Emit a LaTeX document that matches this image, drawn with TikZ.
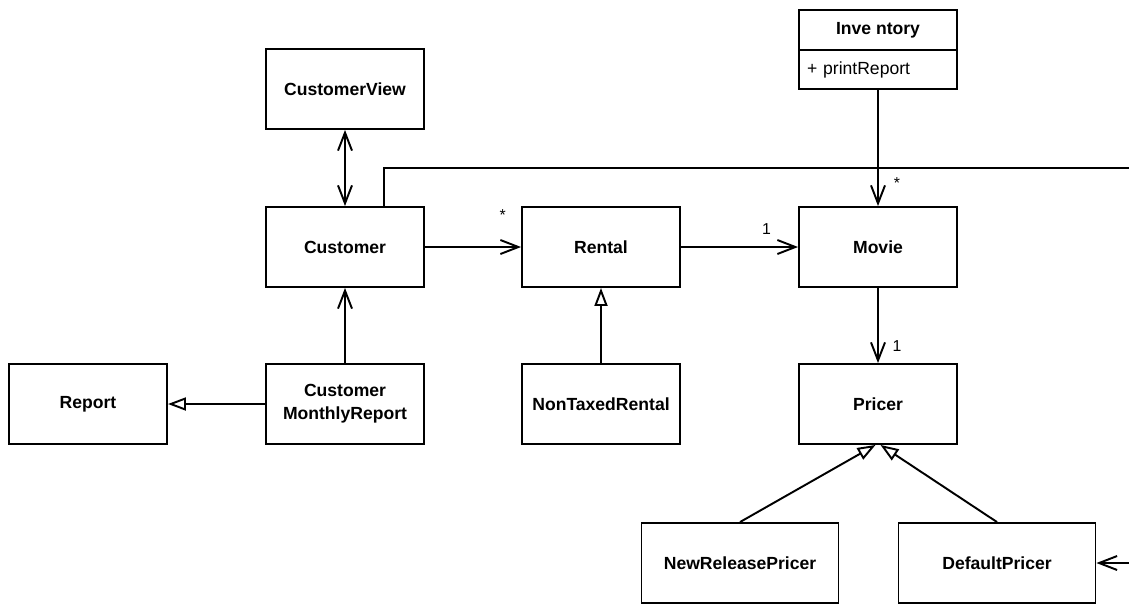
\documentclass[tikz,border=0pt]{standalone}
\usepackage{fontspec}
\setmainfont{Liberation Sans}
\usetikzlibrary{arrows.meta, positioning}

\begin{document}
\begin{tikzpicture}[x=0.02cm, y=-0.02cm, line width=1.1pt,
    main/.style = {draw, rectangle, minimum width=3.16cm, minimum height=1.6cm, align=center, font=\fontsize{10}{13}\selectfont\bfseries},
    wide/.style = {main, minimum width=3.94cm},
    head/.style = {main, minimum height=0.8cm},
    body/.style = {draw, rectangle, minimum height=0.78cm, inner xsep=0.16cm, text width=2.84cm, align=left, font=\fontsize{10}{12}\selectfont},
    assoc/.style = {-{Straight Barb[length=3.6mm,width=2.8mm]}},
    gen/.style = {-{Triangle[open,length=3.6mm,width=2.6mm]}},
    mult/.style = {font=\fontsize{9}{11}\selectfont}]
  \useasboundingbox (0,0) rectangle (1129,603);

  \node[main] (1)  at (345,89)  {CustomerView};
  \node[head] (2)  at (878,30)  {Inve ntory};
  \node[body] (2b) at (878,69.5) {+ printReport};
  \node[main] (3)  at (345,247) {Customer};
  \node[main] (4)  at (601,247) {Rental};
  \node[main] (5)  at (878,247) {Movie};
  \node[main] (6)  at (88,404)  {Report};
  \node[main] (7)  at (345,404) {Customer\\MonthlyReport};
  \node[main] (8)  at (601,404) {NonTaxedRental};
  \node[main] (9)  at (878,404) {Pricer};
  \node[wide] (10) at (740,563) {NewReleasePricer};
  \node[wide] (11) at (997,563) {DefaultPricer};

  \coordinate (r1) at (1129,168);
  \coordinate (r2) at (1129,563);

  \path[assoc]
  (3)  edge node[mult, pos=0.81, yshift=0.64cm] {*} (4)
  (4)  edge node[mult, pos=0.73, yshift=0.36cm] {1} (5)
  (2b) edge node[mult, pos=0.8, xshift=0.38cm]  {*} (5)
  (5)  edge node[mult, pos=0.77, xshift=0.38cm] {1} (9)
  (7)  edge (3)
  (r2) edge (11);

  \path[gen]
  (8)  edge (4)
  (7)  edge (6)
  (10.north) edge ([xshift=-0.05cm]9.south)
  (11.north) edge ([xshift=0.05cm]9.south);

  \draw[{Straight Barb[length=3.6mm,width=2.8mm]}-{Straight Barb[length=3.6mm,width=2.8mm]}] (1) -- (3);
  \draw ([xshift=0.78cm]3.north) |- (r1);

\end{tikzpicture}
\end{document}
